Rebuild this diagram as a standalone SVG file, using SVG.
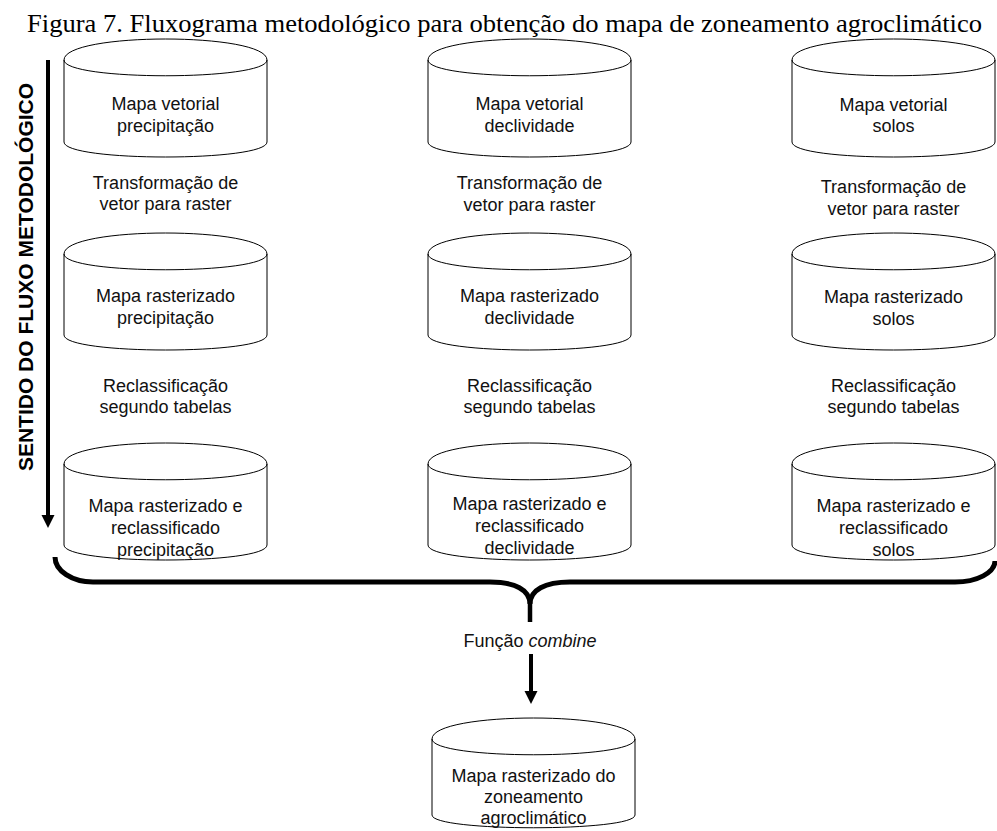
<svg xmlns="http://www.w3.org/2000/svg" width="997" height="831" viewBox="0 0 997 831">
<defs>
<style>
.cyl{fill:#fff;stroke:#000;stroke-width:1}
.t{font-family:"Liberation Sans",Arial,sans-serif;font-size:18px;fill:#111;text-anchor:middle}
.lbl{font-family:"Liberation Sans",Arial,sans-serif;font-size:18px;fill:#111;text-anchor:middle}
.thick{fill:none;stroke:#000;stroke-width:4}
.brace{fill:none;stroke:#000;stroke-width:5}
</style>
<path id="cylA" d="M0,21 C0,-7 203,-7 203,21 L203,103 C203,123 0,123 0,103 Z M0,21 C0,42 203,42 203,21"/>
<path id="cylB" d="M0,21 C0,-7 203,-7 203,21 L203,102 C203,122 0,122 0,102 Z M0,21 C0,42 203,42 203,21"/>
<path id="cylC" d="M0,21 C0,-7 203,-7 203,21 L203,97 C203,114 0,114 0,97 Z M0,21 C0,42 203,42 203,21"/>
</defs>
<rect width="997" height="831" fill="#fff"/>
<text x="504.5" y="32" font-family="'Liberation Serif','Times New Roman',serif" font-size="25" fill="#000" text-anchor="middle" textLength="955" lengthAdjust="spacingAndGlyphs">Figura 7. Fluxograma metodológico para obtenção do mapa de zoneamento agroclimático</text>

<g id="flow-direction">
<text transform="translate(33,277) rotate(-90)" font-family="'Liberation Sans',Arial,sans-serif" font-size="21" font-weight="bold" fill="#000" text-anchor="middle">SENTIDO DO FLUXO METODOLÓGICO</text>
<line x1="48" y1="60" x2="48" y2="517" stroke="#000" stroke-width="4"/>
<polygon points="41.5,515 54.5,515 48,528" fill="#000"/>
</g>

<g id="vet-precip"><use href="#cylA" class="cyl" x="64" y="39"/><text class="t" x="165.5" y="110">Mapa vetorial</text><text class="t" x="165.5" y="132">precipitação</text></g>
<g id="vet-decliv"><use href="#cylA" class="cyl" x="428" y="39"/><text class="t" x="529.5" y="110">Mapa vetorial</text><text class="t" x="529.5" y="132">declividade</text></g>
<g id="vet-solos"><use href="#cylA" class="cyl" x="792" y="39"/><text class="t" x="893.5" y="111">Mapa vetorial</text><text class="t" x="893.5" y="132">solos</text></g>

<g id="ras-precip"><use href="#cylB" class="cyl" x="64" y="233"/><text class="t" x="165.5" y="302">Mapa rasterizado</text><text class="t" x="165.5" y="324">precipitação</text></g>
<g id="ras-decliv"><use href="#cylB" class="cyl" x="428" y="233"/><text class="t" x="529.5" y="302">Mapa rasterizado</text><text class="t" x="529.5" y="324">declividade</text></g>
<g id="ras-solos"><use href="#cylB" class="cyl" x="792" y="233"/><text class="t" x="893.5" y="303">Mapa rasterizado</text><text class="t" x="893.5" y="325">solos</text></g>

<g id="rec-precip"><use href="#cylB" class="cyl" x="64" y="443"/><text class="t" x="165.5" y="512">Mapa rasterizado e</text><text class="t" x="165.5" y="534">reclassificado</text><text class="t" x="165.5" y="556">precipitação</text></g>
<g id="rec-decliv"><use href="#cylB" class="cyl" x="428" y="443"/><text class="t" x="529.5" y="510">Mapa rasterizado e</text><text class="t" x="529.5" y="532">reclassificado</text><text class="t" x="529.5" y="554">declividade</text></g>
<g id="rec-solos"><use href="#cylB" class="cyl" x="792" y="443"/><text class="t" x="893.5" y="512">Mapa rasterizado e</text><text class="t" x="893.5" y="534">reclassificado</text><text class="t" x="893.5" y="556">solos</text></g>

<g id="zoneamento"><use href="#cylC" class="cyl" x="432" y="718"/><text class="t" x="533.5" y="782">Mapa rasterizado do</text><text class="t" x="533.5" y="803">zoneamento</text><text class="t" x="533.5" y="824">agroclimático</text></g>

<g id="connectors">
<text class="lbl" x="165.5" y="189">Transformação de</text><text class="lbl" x="165.5" y="210">vetor para raster</text>
<text class="lbl" x="529.5" y="189">Transformação de</text><text class="lbl" x="529.5" y="211">vetor para raster</text>
<text class="lbl" x="893.5" y="193">Transformação de</text><text class="lbl" x="893.5" y="215">vetor para raster</text>
<text class="lbl" x="165.5" y="392">Reclassificação</text><text class="lbl" x="165.5" y="413">segundo tabelas</text>
<text class="lbl" x="529.5" y="392">Reclassificação</text><text class="lbl" x="529.5" y="413">segundo tabelas</text>
<text class="lbl" x="893.5" y="392">Reclassificação</text><text class="lbl" x="893.5" y="413">segundo tabelas</text>
<path class="brace" d="M55,557 A38,25 0 0 0 93,582 L490,582 C515,582 530,590 530,604 C530,590 545,582 570,582 L955,582 A40,21 0 0 0 995,561"/>
<line x1="530" y1="602" x2="530" y2="622" stroke="#000" stroke-width="4.5"/>
<text class="lbl" x="530" y="647">Função <tspan font-style="italic">combine</tspan></text>
<line x1="531" y1="654" x2="531" y2="693" stroke="#000" stroke-width="4"/>
<polygon points="524.5,691 537.5,691 531,704" fill="#000"/>
</g>
</svg>
